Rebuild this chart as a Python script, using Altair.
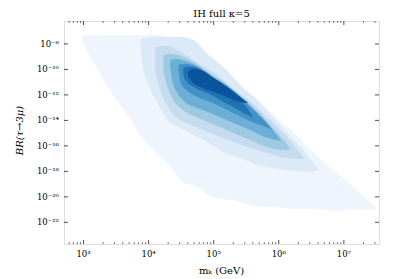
import altair as alt
import pandas as pd
import numpy as np

# ---- data: filled-contour bands (log10 m_k, log10 BR upper / lower) ----
l1_x = [2.98, 3.10, 3.26, 3.41, 3.56, 3.72, 3.87, 4.03, 4.18, 4.26, 4.41, 4.56, 4.72, 4.87, 5.03, 5.16, 5.33, 5.49, 5.67, 5.79, 6.03, 6.20, 6.41, 6.70, 6.95, 7.21, 7.41, 7.49]
l1_hi = [-7.37, -7.29, -7.29, -7.29, -7.29, -7.29, -7.29, -7.29, -7.29, -7.37, -7.61, -8.16, -8.63, -8.86, -9.18, -9.88, -10.82, -11.61, -12.39, -12.94, -14.04, -14.82, -15.92, -17.33, -18.35, -19.53, -20.47, -20.86]
l1_lo = [-7.69, -8.94, -10.35, -11.61, -12.78, -13.88, -15.14, -16.08, -16.86, -17.25, -18.12, -18.98, -19.14, -19.69, -20.08, -20.16, -20.31, -20.55, -20.78, -20.78, -20.86, -20.94, -20.94, -21.02, -21.10, -21.02, -21.02, -20.94]

l2_x = [3.87, 3.90, 3.98, 4.13, 4.29, 4.49, 4.69, 4.95, 5.16, 5.46, 5.67, 5.95, 6.20, 6.49, 6.61]
l2_hi = [-7.69, -7.61, -7.53, -7.45, -7.45, -7.45, -7.69, -9.02, -9.88, -11.45, -12.39, -13.96, -15.37, -17.02, -17.88]
l2_lo = [-7.92, -9.41, -10.98, -12.55, -13.96, -14.59, -15.14, -15.84, -16.55, -17.02, -17.49, -17.80, -17.96, -18.04, -17.88]

l3_x = [4.10, 4.18, 4.30, 4.44, 4.61, 4.80, 5.03, 5.30, 5.56, 5.82, 6.10, 6.33, 6.38]
l3_hi = [-8.31, -8.16, -8.16, -8.47, -9.02, -9.65, -10.35, -11.53, -12.47, -13.73, -15.14, -16.55, -16.86]
l3_lo = [-10.04, -11.61, -12.94, -13.80, -14.27, -14.67, -15.14, -15.69, -16.16, -16.55, -16.94, -17.02, -16.94]

l4_x = [4.23, 4.29, 4.38, 4.53, 4.69, 4.87, 5.10, 5.30, 5.56, 5.82, 6.03, 6.18]
l4_hi = [-8.94, -8.78, -8.78, -9.02, -9.41, -10.04, -10.82, -11.61, -12.71, -14.04, -15.29, -16.24]
l4_lo = [-10.20, -11.37, -12.39, -13.18, -13.65, -14.04, -14.51, -14.98, -15.53, -16.08, -16.31, -16.31]

l5_x = [4.33, 4.36, 4.44, 4.56, 4.75, 4.95, 5.30, 5.56, 5.82, 6.03]
l5_hi = [-9.41, -9.25, -9.18, -9.33, -9.73, -10.43, -11.61, -12.86, -14.20, -15.53]
l5_lo = [-9.73, -10.82, -11.84, -12.55, -13.02, -13.41, -14.20, -14.75, -15.37, -15.61]

l6_x = [4.46, 4.49, 4.60, 4.75, 4.95, 5.30, 5.56, 5.75, 5.90]
l6_hi = [-9.73, -9.57, -9.57, -9.88, -10.51, -11.69, -12.94, -13.88, -14.75]
l6_lo = [-10.04, -11.06, -11.69, -12.16, -12.55, -13.41, -14.04, -14.43, -14.75]

l7_x = [4.53, 4.56, 4.69, 4.90, 5.10, 5.30, 5.49, 5.61]
l7_hi = [-9.96, -9.80, -9.80, -10.35, -11.06, -11.92, -12.86, -13.80]
l7_lo = [-10.27, -10.82, -11.37, -11.84, -12.39, -12.94, -13.49, -13.80]

l8_x = [4.60, 4.67, 4.80, 5.00, 5.23, 5.41, 5.53]
l8_hi = [-10.20, -9.96, -10.04, -10.67, -11.45, -12.16, -12.63]
l8_lo = [-10.43, -10.98, -11.37, -11.76, -12.24, -12.55, -12.63]

band_colors = ["#eef5fc", "#dce9f6", "#c6dbef", "#9ecae1", "#6baed6", "#4292c6", "#2171b5", "#0b559f"]

x_major = [3, 4, 5, 6, 7]
y_major = [-22, -20, -18, -16, -14, -12, -10, -8]
x_domain = [2.70, 7.54]
y_domain = [-23.7, -6.2]

title_text = "IH full κ=5"
x_title = "mₖ (GeV)"
y_title = "BR(τ→3μ)"

W, H = 315, 223
FONT = "DejaVu Serif"

SUP = {"0": "⁰", "1": "¹", "2": "²", "3": "³", "4": "⁴", "5": "⁵",
       "6": "⁶", "7": "⁷", "8": "⁸", "9": "⁹", "-": "⁻"}


def sup_label(v):
    return "10" + "".join(SUP[c] for c in str(v))


xs = alt.Scale(domain=x_domain, nice=False, zero=False)
ys = alt.Scale(domain=y_domain, nice=False, zero=False)

bands = [(l1_x, l1_hi, l1_lo), (l2_x, l2_hi, l2_lo), (l3_x, l3_hi, l3_lo),
         (l4_x, l4_hi, l4_lo), (l5_x, l5_hi, l5_lo), (l6_x, l6_hi, l6_lo),
         (l7_x, l7_hi, l7_lo), (l8_x, l8_hi, l8_lo)]

layers = []
for i, (bx, bhi, blo) in enumerate(bands):
    df = pd.DataFrame({"x": bx, "hi": bhi, "lo": blo})
    layers.append(
        alt.Chart(df).mark_area(color=band_colors[i], interpolate="monotone", opacity=1)
        .encode(x=alt.X("x:Q", scale=xs, axis=None),
                y=alt.Y("hi:Q", scale=ys, axis=None),
                y2="lo:Q")
    )

# tick marks (inward, matplotlib style)
x_minor = [float(np.log10(k * 10.0 ** d)) for d in range(2, 8) for k in range(2, 10)]
x_minor = [v for v in x_minor if x_domain[0] < v < x_domain[1]]

xmaj_df = pd.DataFrame({"x": x_major, "t": [sup_label(v) for v in x_major]})
xmin_df = pd.DataFrame({"x": x_minor})
ymaj_df = pd.DataFrame({"y": y_major, "t": [sup_label(v) for v in y_major]})

tick_color = "#222222"


def xr(df, y0, y1, sw):
    return alt.Chart(df).mark_rule(color=tick_color, strokeWidth=sw).encode(
        x=alt.X("x:Q", scale=xs, axis=None), y=alt.value(y0), y2=alt.value(y1))


def yr(df, x0, x1, sw):
    return alt.Chart(df).mark_rule(color=tick_color, strokeWidth=sw).encode(
        y=alt.Y("y:Q", scale=ys, axis=None), x=alt.value(x0), x2=alt.value(x1))


ticks = [
    xr(xmaj_df, H, H - 4, 0.8), xr(xmaj_df, 0, 4, 0.8),
    xr(xmin_df, H, H - 2, 0.6), xr(xmin_df, 0, 2, 0.6),
    yr(ymaj_df, 0, 4, 0.8), yr(ymaj_df, W - 4, W, 0.8),
]

# tick labels and titles as text marks
x_labels = alt.Chart(xmaj_df).mark_text(
    font=FONT, fontSize=8.5, color="black", align="center", baseline="middle"
).encode(x=alt.X("x:Q", scale=xs, axis=None), y=alt.value(H + 10), text="t:N")

y_labels = alt.Chart(ymaj_df).mark_text(
    font=FONT, fontSize=8.5, color="black", align="right", baseline="middle"
).encode(y=alt.Y("y:Q", scale=ys, axis=None), x=alt.value(-5), text="t:N")

title_mark = alt.Chart(pd.DataFrame({"t": [title_text]})).mark_text(
    font=FONT, fontSize=10, color="black", align="center", baseline="alphabetic"
).encode(x=alt.value(W / 2), y=alt.value(-4), text="t:N")

xtitle_mark = alt.Chart(pd.DataFrame({"t": [x_title]})).mark_text(
    font=FONT, fontSize=10, color="black", align="center", baseline="middle"
).encode(x=alt.value(W / 2), y=alt.value(H + 27), text="t:N")

ytitle_mark = alt.Chart(pd.DataFrame({"t": [y_title]})).mark_text(
    font=FONT, fontSize=10, fontStyle="italic", color="black", align="center",
    baseline="middle", angle=270
).encode(x=alt.value(-44), y=alt.value(H / 2 - 2), text="t:N")

chart = alt.layer(*layers, *ticks, x_labels, y_labels, title_mark, xtitle_mark,
                  ytitle_mark).properties(
    width=W, height=H,
    autosize=alt.AutoSizeParams(type="none"),
    padding={"left": 56, "top": 13, "right": 20, "bottom": 36},
).configure_view(stroke="#111111", strokeWidth=1).configure(background="white")

chart.save("out.html", embed_options={"renderer": "svg", "actions": False})
